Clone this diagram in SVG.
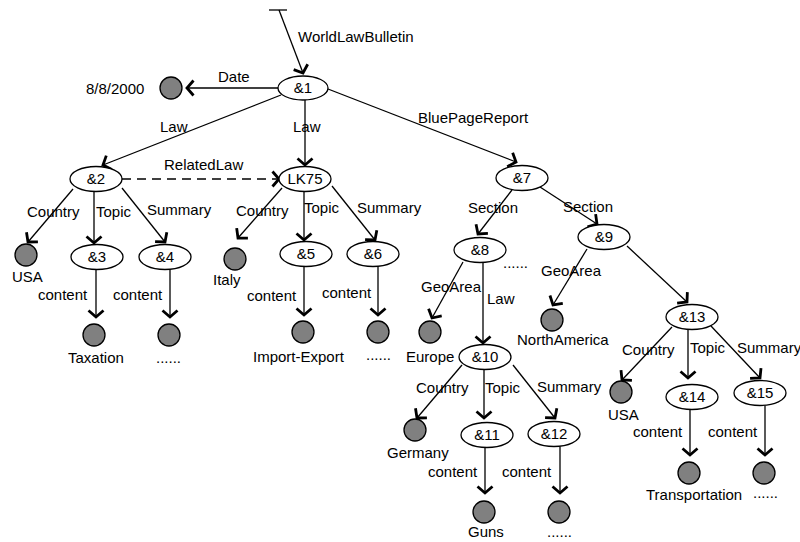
<svg xmlns="http://www.w3.org/2000/svg" width="800" height="542" viewBox="0 0 800 542">
<style>
text{font-family:"Liberation Sans",Arial,sans-serif;font-size:15px;fill:#000}
.n text{text-anchor:middle}
ellipse{fill:#fff;stroke:#000;stroke-width:1.3}
circle{fill:#808080;stroke:#000;stroke-width:1.3}
.e line{stroke:#000;stroke-width:1.3;marker-end:url(#arr)}
.e line.d{stroke-dasharray:9,6}
</style>
<defs>
<marker id="arr" markerUnits="userSpaceOnUse" viewBox="-12 -12 16 24" markerWidth="16" markerHeight="24" refX="0" refY="0" orient="auto">
<path d="M-6.5,-7.5 L0,0 L-6.5,7.5" fill="none" stroke="#000" stroke-width="2.8"/>
</marker>
</defs>
<rect width="800" height="542" fill="#fff"/>
<g id="edges" class="e">
<line x1="279" y1="10" x2="303" y2="73"/>
<line x1="278" y1="88" x2="187" y2="88"/>
<line x1="281" y1="95" x2="103" y2="165"/>
<line x1="305" y1="100" x2="305" y2="165"/>
<line x1="328" y1="89" x2="516" y2="162"/>
<line class="d" x1="122" y1="179" x2="279" y2="179"/>
<line x1="73" y1="189" x2="28" y2="242"/>
<line x1="94" y1="191.5" x2="94" y2="243"/>
<line x1="122" y1="188" x2="165" y2="242"/>
<line x1="96" y1="269.5" x2="96" y2="317"/>
<line x1="170" y1="269.5" x2="170" y2="317"/>
<line x1="282" y1="188" x2="238" y2="238"/>
<line x1="304" y1="191.5" x2="304" y2="240"/>
<line x1="332" y1="186" x2="375" y2="240"/>
<line x1="304" y1="266.5" x2="304" y2="315"/>
<line x1="378" y1="266.5" x2="378" y2="315"/>
<line x1="512" y1="190" x2="478" y2="234"/>
<line x1="540" y1="187" x2="597" y2="224"/>
<line x1="463" y1="262" x2="432" y2="318"/>
<line x1="483" y1="262.5" x2="483" y2="343"/>
<line x1="587" y1="249" x2="553" y2="305"/>
<line x1="627" y1="246" x2="687" y2="302"/>
<line x1="462" y1="365" x2="417" y2="418"/>
<line x1="484" y1="369.5" x2="484" y2="418"/>
<line x1="513" y1="365" x2="555" y2="418"/>
<line x1="485" y1="447.5" x2="485" y2="493"/>
<line x1="560" y1="446.5" x2="560" y2="493"/>
<line x1="672" y1="327" x2="622" y2="380"/>
<line x1="688" y1="329.5" x2="688" y2="378"/>
<line x1="711" y1="326" x2="760" y2="378"/>
<line x1="690" y1="409.5" x2="690" y2="455"/>
<line x1="765" y1="405.5" x2="765" y2="455"/>
</g>
<g id="start"><line x1="269" y1="10" x2="287" y2="10" stroke="#000" stroke-width="1.3"/></g>
<g id="edge-labels">
<text x="298" y="42">WorldLawBulletin</text>
<text x="218" y="82">Date</text>
<text x="160" y="132">Law</text>
<text x="293" y="132">Law</text>
<text x="418" y="123">BluePageReport</text>
<text x="164" y="170">RelatedLaw</text>
<text x="27" y="217">Country</text>
<text x="96" y="217">Topic</text>
<text x="147" y="215">Summary</text>
<text x="38" y="300">content</text>
<text x="113" y="300">content</text>
<text x="236" y="216">Country</text>
<text x="304" y="213">Topic</text>
<text x="357" y="213">Summary</text>
<text x="247" y="301">content</text>
<text x="322" y="298">content</text>
<text x="468" y="213">Section</text>
<text x="563" y="212">Section</text>
<text x="503" y="268">......</text>
<text x="421" y="292">GeoArea</text>
<text x="487" y="304">Law</text>
<text x="541" y="276">GeoArea</text>
<text x="416" y="393">Country</text>
<text x="485" y="393">Topic</text>
<text x="537" y="392">Summary</text>
<text x="428" y="477">content</text>
<text x="502" y="477">content</text>
<text x="622" y="355">Country</text>
<text x="690" y="353">Topic</text>
<text x="737" y="353">Summary</text>
<text x="633" y="437">content</text>
<text x="708" y="437">content</text>
</g>
<g id="n1" class="n"><ellipse cx="303" cy="88" rx="25" ry="12"/><text x="303" y="93">&amp;1</text></g>
<g id="v-date"><circle cx="171" cy="88" r="11"/><text x="86" y="94">8/8/2000</text></g>
<g id="n2" class="n"><ellipse cx="96" cy="179" rx="26" ry="12.5"/><text x="96" y="184">&amp;2</text></g>
<g id="lk75" class="n"><ellipse cx="305" cy="179" rx="26" ry="12.5"/><text x="305" y="184">LK75</text></g>
<g id="n7" class="n"><ellipse cx="522" cy="178" rx="26" ry="12.5"/><text x="522" y="183">&amp;7</text></g>
<g id="v-usa1"><circle cx="26" cy="255" r="11"/><text x="12" y="282">USA</text></g>
<g id="n3" class="n"><ellipse cx="97" cy="257" rx="26" ry="12.5"/><text x="97" y="262">&amp;3</text></g>
<g id="n4" class="n"><ellipse cx="165" cy="257" rx="26" ry="12.5"/><text x="165" y="262">&amp;4</text></g>
<g id="v-tax"><circle cx="94" cy="335" r="11"/><text x="68" y="363">Taxation</text></g>
<g id="v-4"><circle cx="169" cy="335" r="11"/><text x="156" y="363">......</text></g>
<g id="v-italy"><circle cx="235" cy="259" r="11"/><text x="213" y="285">Italy</text></g>
<g id="n5" class="n"><ellipse cx="306" cy="254" rx="26" ry="12.5"/><text x="306" y="259">&amp;5</text></g>
<g id="n6" class="n"><ellipse cx="373" cy="254" rx="26" ry="12.5"/><text x="373" y="259">&amp;6</text></g>
<g id="v-ie"><circle cx="303" cy="332" r="11"/><text x="253" y="362">Import-Export</text></g>
<g id="v-6"><circle cx="378" cy="332" r="11"/><text x="366" y="360">......</text></g>
<g id="n8" class="n"><ellipse cx="480" cy="250" rx="26" ry="12.5"/><text x="480" y="255">&amp;8</text></g>
<g id="n9" class="n"><ellipse cx="604" cy="237" rx="26" ry="12.5"/><text x="604" y="242">&amp;9</text></g>
<g id="v-europe"><circle cx="430" cy="332" r="11"/><text x="406" y="362">Europe</text></g>
<g id="v-na"><circle cx="552" cy="320" r="11"/><text x="517" y="345">NorthAmerica</text></g>
<g id="n10" class="n"><ellipse cx="485" cy="357" rx="26" ry="12.5"/><text x="485" y="362">&amp;10</text></g>
<g id="n13" class="n"><ellipse cx="692" cy="317" rx="26" ry="12.5"/><text x="692" y="322">&amp;13</text></g>
<g id="v-germany"><circle cx="415" cy="430" r="11"/><text x="387" y="458">Germany</text></g>
<g id="n11" class="n"><ellipse cx="487" cy="435" rx="26" ry="12.5"/><text x="487" y="440">&amp;11</text></g>
<g id="n12" class="n"><ellipse cx="554" cy="434" rx="26" ry="12.5"/><text x="554" y="439">&amp;12</text></g>
<g id="v-guns"><circle cx="484" cy="512" r="11"/><text x="468" y="537">Guns</text></g>
<g id="v-12"><circle cx="559" cy="512" r="11"/><text x="547" y="537">......</text></g>
<g id="v-usa2"><circle cx="621" cy="392" r="11"/><text x="608" y="420">USA</text></g>
<g id="n14" class="n"><ellipse cx="692" cy="397" rx="26" ry="12.5"/><text x="692" y="402">&amp;14</text></g>
<g id="n15" class="n"><ellipse cx="760" cy="393" rx="26" ry="12.5"/><text x="760" y="398">&amp;15</text></g>
<g id="v-trans"><circle cx="689" cy="473" r="11"/><text x="646" y="500">Transportation</text></g>
<g id="v-15"><circle cx="764" cy="473" r="11"/><text x="753" y="498">......</text></g>
</svg>
